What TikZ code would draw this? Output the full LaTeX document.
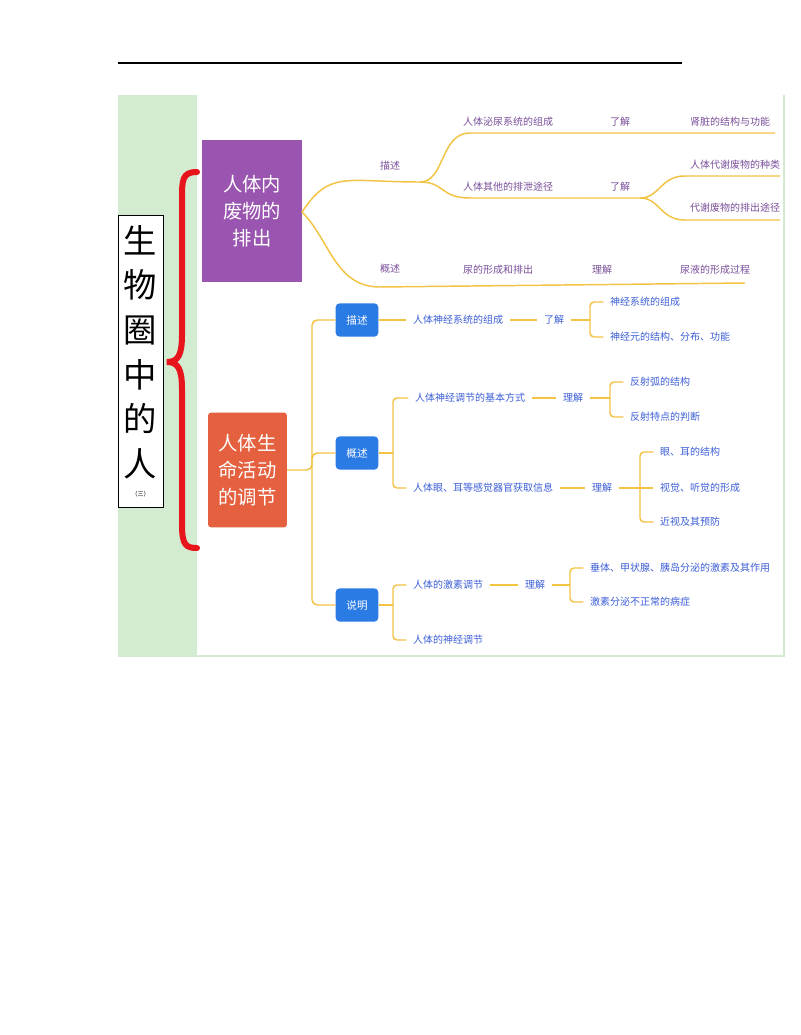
\documentclass[tikz,border=0pt]{standalone}
\usepackage{fontspec}
\newfontfamily\cjk{Noto Sans CJK SC}
\usetikzlibrary{positioning}
\definecolor{bandgreen}{HTML}{D3EBD0}
\definecolor{wastepurple}{HTML}{9A55B0}
\definecolor{lifered}{HTML}{E4603F}
\definecolor{bracered}{HTML}{E8141B}
\definecolor{tagblue}{HTML}{2B7BE4}
\definecolor{branchyellow}{HTML}{F3C344}
\definecolor{txtpurple}{HTML}{7A4F9A}
\definecolor{txtblue}{HTML}{3D5FD6}
\tikzset{
  ptext/.style={font=\cjk\fontsize{7.5}{8}\selectfont,text=txtpurple,inner sep=1pt},
  btext/.style={font=\cjk\fontsize{7.5}{8}\selectfont,text=txtblue,inner sep=1pt,outer sep=4pt},
  tagbox/.style={fill=tagblue,rounded corners=3pt,minimum width=32pt,minimum height=25pt,
    text=white,font=\cjk\fontsize{8}{9}\selectfont},
  branch/.style={draw=branchyellow,line width=1.1pt}
}
\begin{document}
\begin{tikzpicture}[x=0.75pt,y=-0.75pt]
    \useasboundingbox (0,0) rectangle (800,1035);
    \draw[line width=0.8pt] (118,63) -- (682,63);
    \fill[bandgreen] (118,95) rectangle (785,657);
    \fill[white] (197,95) rectangle (783,655);
    \node[draw,fill=white,minimum width=33.75pt,minimum height=219pt,inner sep=0pt] (title) at (140.5,361) {};
    \node[font=\cjk\fontsize{25}{33.5}\selectfont,align=center] (titletxt) at (140.5,352)
        {生\\物\\圈\\中\\的\\人};
    \node[font=\cjk\fontsize{4.5}{5}\selectfont] (titlenum) at (140.5,494) {（三）};
    % brace
    \draw[bracered,line width=4.5pt,line cap=round]
        (197,172) .. controls (182,172) and (182,180) .. (182,200)
        -- (182,335) .. controls (182,355) and (178,362) .. (167,362)
        .. controls (178,362) and (182,369) .. (182,389)
        -- (182,525) .. controls (182,545) and (186,548) .. (197,548);

    \begin{scope}[every node/.style={text=white,inner sep=0pt,align=center,font=\cjk\fontsize{14.5}{20}\selectfont}]
        \node[fill=wastepurple,minimum width=75pt,minimum height=107pt] (waste) at (252,211) {人体内\\废物的\\排出};
        \node[fill=lifered,rounded corners=2pt,minimum width=59pt,minimum height=86pt] (life) at (247.5,470) {人体生\\命活动\\的调节};
    \end{scope}

    % upper branches
    \coordinate (wr) at (302,212);
    \draw[branch] (wr) .. controls (330,170) and (345,182) .. (420,182)
        .. controls (445,182) and (440,133) .. (470,133) -- (775,133);
    \draw[branch] (420,182) .. controls (445,182) and (440,198) .. (470,198) -- (640,198)
        .. controls (660,198) and (660,176) .. (685,176) -- (780,176);
    \draw[branch] (640,198) .. controls (660,198) and (660,220) .. (685,220) -- (780,220);
    \draw[branch] (wr) .. controls (330,240) and (335,287) .. (380,287) -- (745,283);
    \begin{scope}[every node/.style={ptext}]
        \node (desc) at (390,166) {描述};
        \node (urin) at (508,122) {人体泌尿系统的组成};
        \node (know1) at (620,122) {了解};
        \node (kidney) at (730,122) {肾脏的结构与功能};
        \node (other) at (508,187) {人体其他的排泄途径};
        \node (know2) at (620,187) {了解};
        \node (kinds) at (735,165) {人体代谢废物的种类};
        \node (ways) at (735,208) {代谢废物的排出途径};
        \node (outl) at (390,269) {概述};
        \node (urine) at (498,270) {尿的形成和排出};
        \node (undst) at (602,270) {理解};
        \node (proc) at (715,270) {尿液的形成过程};
    \end{scope}

    % lower branches
    \node[tagbox] (ms) at (357,320) {描述};
    \node[tagbox] (gs) at (357,453) {概述};
    \node[tagbox] (sm) at (357,605) {说明};
    \draw[branch,rounded corners=4pt] (life.east) -- (312,470) |- (ms.west);
    \draw[branch,rounded corners=4pt] (312,470) |- (gs.west);
    \draw[branch,rounded corners=4pt] (312,470) |- (sm.west);
    \begin{scope}[every node/.style={btext}]
        \node (ns) at (458,320) {人体神经系统的组成};
        \node (ljA) at (554,320) {了解};
        \node (nsa) at (645,302) {神经系统的组成};
        \node (nsb) at (670,337) {神经元的结构、分布、功能};
        \node (basic) at (470,398) {人体神经调节的基本方式};
        \node (ljB) at (573,398) {理解};
        \node (arc) at (660,382) {反射弧的结构};
        \node (refl) at (665,417) {反射特点的判断};
        \node (sense) at (483,488) {人体眼、耳等感觉器官获取信息};
        \node (ljC) at (602,488) {理解};
        \node (eye) at (690,452) {眼、耳的结构};
        \node (see) at (700,488) {视觉、听觉的形成};
        \node (myop) at (690,522) {近视及其预防};
        \node (horm) at (448,585) {人体的激素调节};
        \node (ljD) at (535,585) {理解};
        \node (gland) at (680,568) {垂体、甲状腺、胰岛分泌的激素及其作用};
        \node (ill) at (640,602) {激素分泌不正常的病症};
        \node (nerv) at (448,640) {人体的神经调节};
    \end{scope}
    \begin{scope}[every path/.style={branch,rounded corners=3pt}]
        \draw (ms.east) -- (ns.west);
        \draw (ns.east) -- (ljA.west);
        \draw (ljA.east) -- (590,320);
        \draw (nsa.west) -| (590,320) |- (nsb.west);
        \draw (gs.east) -- (393,453);
        \draw (basic.west) -| (393,453) |- (sense.west);
        \draw (basic.east) -- (ljB.west);
        \draw (ljB.east) -- (610,398);
        \draw (arc.west) -| (610,398) |- (refl.west);
        \draw (sense.east) -- (ljC.west);
        \draw (ljC.east) -- (see.west);
        \draw (eye.west) -| (640,488) |- (myop.west);
        \draw (sm.east) -- (393,605);
        \draw (horm.west) -| (393,605) |- (nerv.west);
        \draw (horm.east) -- (ljD.west);
        \draw (ljD.east) -- (570,585);
        \draw (gland.west) -| (570,585) |- (ill.west);
    \end{scope}
\end{tikzpicture}
\end{document}
